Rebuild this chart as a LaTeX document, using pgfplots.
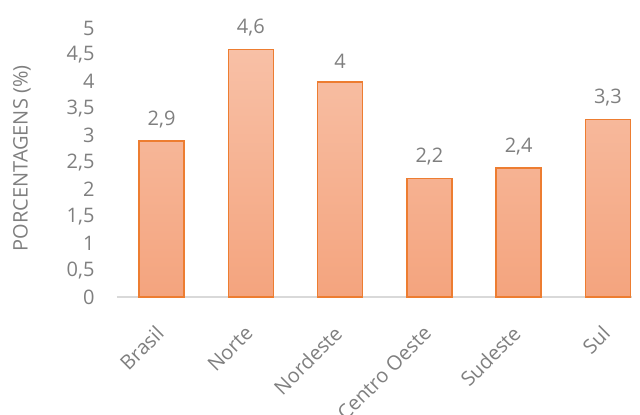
\documentclass[border=0pt]{standalone}
\usepackage{fontspec}
\setmainfont{Open Sans}
\usepackage{pgfplots}
\pgfplotsset{compat=1.18}
\definecolor{txt}{HTML}{7F7F7F}
\definecolor{barline}{HTML}{ED7D31}
\definecolor{bartop}{HTML}{F8C0A6}
\definecolor{barbot}{HTML}{F4A47E}
\definecolor{axl}{HTML}{D9D9D9}
\begin{document}
\begin{tikzpicture}[x=1pt,y=1pt]
\useasboundingbox (0,0) rectangle (640,415);
\begin{axis}[
  at={(117pt,118pt)}, anchor=south west,
  scale only axis, width=515pt, height=269pt,
  xmin=-0.5, xmax=5.27, ymin=0, ymax=5,
  ybar, bar width=45pt,
  axis x line*=bottom, axis y line*=left,
  y axis line style={draw=none},
  x axis line style={draw=axl, line width=1.5pt, -},
  major tick length=0pt,
  ytick={0,0.5,...,5},
  xtick=data,
  xticklabels={Brasil,Norte,Nordeste,Centro Oeste,Sudeste,Sul},
  /pgf/number format/assume math mode=true,
  /pgf/number format/use comma,
  ticklabel style={font=\fontsize{20}{22}\selectfont, text=txt},
  yticklabel style={xshift=-19pt},
  xticklabel style={rotate=45, anchor=east, xshift=-21pt, yshift=-22pt},
  ylabel={PORCENTAGENS (\%)},
  every axis y label/.style={at={(axis description cs:0,0.5)}, xshift=-95pt, yshift=4pt, rotate=90, anchor=center, font=\fontsize{20}{22}\selectfont, text=txt},
  nodes near coords,
  every node near coord/.append style={font=\fontsize{20}{22}\selectfont, text=txt, anchor=south, yshift=9pt},
  clip=false,
]
\addplot[draw=barline, line width=1.6pt, top color=bartop, bottom color=barbot]
  coordinates {(0,2.9) (1,4.6) (2,4) (3,2.2) (4,2.4) (5,3.3)};
\end{axis}
\end{tikzpicture}
\end{document}
